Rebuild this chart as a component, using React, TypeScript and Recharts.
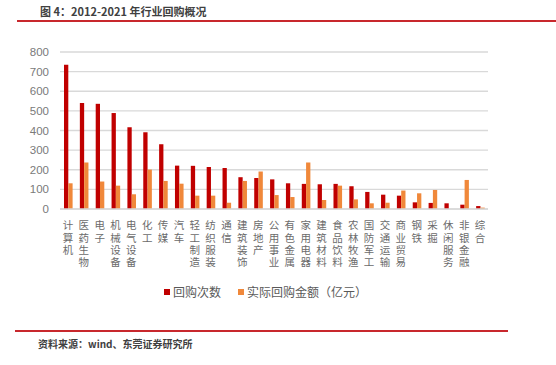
import { Bar, BarChart, CartesianGrid, XAxis, YAxis } from "recharts";

/* 行业 */
const industries = [
  "计算机", "医药生物", "电子", "机械设备", "电气设备", "化工", "传媒", "汽车",
  "轻工制造", "纺织服装", "通信", "建筑装饰", "房地产", "公用事业", "有色金属",
  "家用电器", "建筑材料", "食品饮料", "农林牧渔", "国防军工", "交通运输",
  "商业贸易", "钢铁", "采掘", "休闲服务", "非银金融", "综合",
];

/* 回购次数 */
const buybackCount = [
  735, 540, 536, 489, 417, 391, 330, 221, 220, 214, 209, 162, 158, 151, 131,
  128, 126, 128, 116, 87, 73, 68, 34, 31, 29, 22, 15,
];

/* 实际回购金额（亿元） */
const buybackAmount = [
  131, 237, 140, 119, 75, 201, 143, 129, 68, 68, 32, 143, 191, 71, 61, 237, 46,
  119, 49, 29, 32, 94, 80, 97, 0, 148, 7,
];

const yTicks = [0, 100, 200, 300, 400, 500, 600, 700, 800];

const data = industries.map((name, i) => ({
  name,
  count: buybackCount[i],
  amount: buybackAmount[i],
}));

const RED = "#C00000";
const ORANGE = "#F0883A";
const CJK = '"Noto Sans CJK SC", "Noto Sans", sans-serif';

// category names are written top-to-bottom, one character under the other
function VerticalTick(props: any) {
  const { x, y, payload } = props;
  return (
    <text
      x={x}
      y={y + 3}
      fill="#6b6b6b"
      fontSize={10.5}
      fontFamily={CJK}
      style={{ writingMode: "vertical-rl", letterSpacing: 1.8 }}
    >
      {payload.value}
    </text>
  );
}

export default function App() {
  return (
    <div
      style={{
        position: "absolute",
        left: 0,
        top: 0,
        width: 556,
        height: 365,
        background: "#fff",
        fontFamily: CJK,
        overflow: "hidden",
      }}
    >
      <div
        style={{
          position: "absolute",
          left: 40,
          top: 3,
          fontSize: 11,
          fontWeight: 700,
          color: "#404040",
          whiteSpace: "nowrap",
        }}
      >
        图 4：2012-2021 年行业回购概况
      </div>
      <div
        style={{
          position: "absolute",
          left: 17,
          right: 0,
          top: 20,
          height: 2,
          background: "#C8282D",
        }}
      />

      <div style={{ position: "absolute", left: 0, top: 0 }}>
        <BarChart
          width={556}
          height={365}
          data={data}
          margin={{ top: 52, right: 68, bottom: 56, left: 20 }}
          barGap={0}
        >
          <CartesianGrid
            vertical={false}
            stroke="#d9d9d9"
            strokeWidth={1.3}
          />
          <XAxis
            dataKey="name"
            interval={0}
            tickLine={false}
            axisLine={{ stroke: "#d9d9d9", strokeWidth: 1.3 }}
            tick={<VerticalTick />}
            height={100}
          />
          <YAxis
            width={40}
            domain={[0, 800]}
            ticks={yTicks}
            interval={0}
            tickLine={false}
            axisLine={false}
            tickMargin={5}
            tick={{ fill: "#7a7a7a", fontSize: 11.5, fontFamily: '"Liberation Sans", sans-serif' }}
          />
          <Bar
            dataKey="count"
            fill={RED}
            barSize={4.3}
            isAnimationActive={false}
          />
          <Bar
            dataKey="amount"
            fill={ORANGE}
            barSize={4.3}
            isAnimationActive={false}
          />
        </BarChart>
      </div>

      {/* legend */}
      <div
        style={{
          position: "absolute",
          left: 164,
          top: 283,
          display: "flex",
          alignItems: "center",
          fontSize: 12,
          color: "#595959",
          whiteSpace: "nowrap",
        }}
      >
        <span style={{ width: 6, height: 6, background: RED, marginRight: 3 }} />
        <span>回购次数</span>
        <span
          style={{ width: 6, height: 6, background: ORANGE, marginLeft: 17, marginRight: 3 }}
        />
        <span>实际回购金额（亿元）</span>
      </div>

      <div
        style={{
          position: "absolute",
          left: 15,
          top: 330,
          width: 493,
          height: 2,
          background: "#C8282D",
        }}
      />
      <div
        style={{
          position: "absolute",
          left: 38,
          top: 336,
          fontSize: 10,
          fontWeight: 700,
          color: "#404040",
          whiteSpace: "nowrap",
        }}
      >
        资料来源：wind、东莞证券研究所
      </div>
    </div>
  );
}
